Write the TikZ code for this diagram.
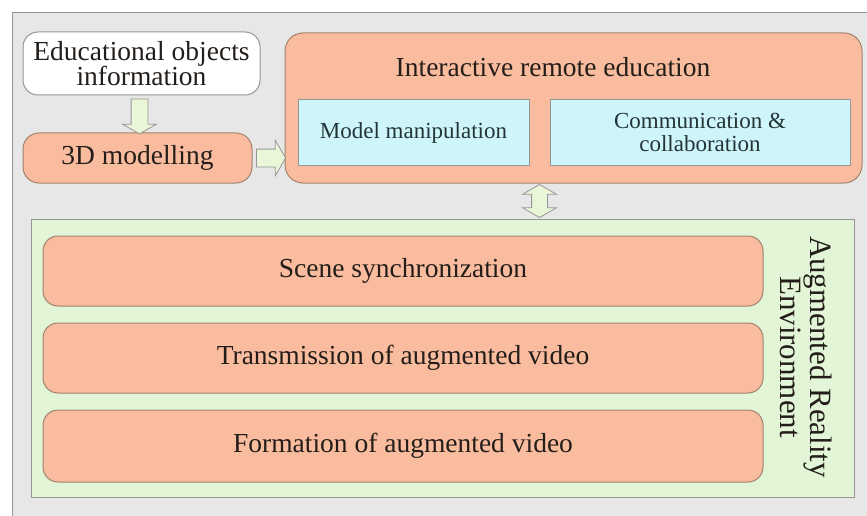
\documentclass[tikz,border=0pt]{standalone}
\usepackage{fontspec}
\setmainfont{Liberation Serif}
\usepackage{tikz}
\usetikzlibrary{arrows,calc,positioning,shapes.arrows}
\definecolor{bggray}{RGB}{231,231,231}
\definecolor{framegray}{RGB}{150,150,150}
\definecolor{salmon}{RGB}{250,188,158}
\definecolor{salmonline}{RGB}{160,130,110}
\definecolor{iceblue}{RGB}{206,246,250}
\definecolor{palegreen}{RGB}{226,245,214}
\definecolor{arrowgreen}{RGB}{234,246,216}
\definecolor{inkdark}{RGB}{36,30,26}
\definecolor{inkblue}{RGB}{36,52,54}
\newcommand{\tightlines}{\lineskiplimit=-30pt\relax}
\tikzset{
    %Define style for rounded boxes
    roundbox/.style={
           rectangle,
           rounded corners=16pt,
           draw=salmonline, line width=1pt,
           fill=salmon,
           inner sep=0pt,
           font={\fontsize{27.5}{25.5}\selectfont\tightlines},
           text=inkdark,
           align=center},
    sourcebox/.style={
           roundbox,
           fill=white,
           draw=framegray},
    subbox/.style={
           rectangle,
           draw=framegray, line width=1pt,
           fill=iceblue,
           inner sep=0pt,
           font={\fontsize{23}{23}\selectfont\tightlines},
           text=inkblue,
           align=center},
    envbox/.style={
           rectangle,
           draw=framegray, line width=1pt,
           fill=palegreen,
           inner sep=0pt},
    % Define block arrow styles
    fatarrow/.style={
           single arrow,
           draw=framegray, line width=0.8pt,
           fill=arrowgreen,
           inner xsep=0pt,
           single arrow tip angle=120},
    twinarrow/.style={
           double arrow,
           draw=framegray, line width=0.8pt,
           fill=arrowgreen,
           inner xsep=0pt,
           double arrow tip angle=120}
}
\begin{document}
\begin{tikzpicture}[x=1pt,y=-1pt]
\clip (0,0) rectangle (867,516);
\draw[fill=bggray, draw=framegray, line width=1pt] (12,13) rectangle (890,540);

 %nodes
\node[sourcebox, minimum width=237pt, minimum height=63pt, rounded corners=15pt]
    (info) at (141.5,63.5) {Educational objects\\information};
\node[roundbox, minimum width=229pt, minimum height=50pt]
    (model3d) at (137.5,158) {3D modelling};
\node[roundbox, minimum width=577pt, minimum height=150pt, rounded corners=18pt]
    (interact) at (573.5,108) {};
\node[font=\fontsize{27.5}{21}\selectfont, text=inkdark]
    (interacttitle) at (553,67) {Interactive remote education};
\node[subbox, minimum width=231pt, minimum height=65pt]
    (manip) at (413.5,132.5) {Model manipulation};
\node[subbox, minimum width=300pt, minimum height=65pt]
    (comm) at (700,132.5) {Communication \&\\collaboration};

\node[envbox, minimum width=823pt, minimum height=278pt]
    (env) at (442.5,358) {};
\node[roundbox, minimum width=720pt, minimum height=70pt, rounded corners=15pt]
    (sync) at (403,271) {Scene synchronization};
\node[roundbox, minimum width=720pt, minimum height=70pt, rounded corners=15pt]
    (trans) at (403,358) {Transmission of augmented video};
\node[roundbox, minimum width=720pt, minimum height=72pt, rounded corners=15pt]
    (form) at (403,446) {Formation of augmented video};
\node[rotate=-90, align=center, font={\fontsize{31}{30}\selectfont\tightlines},
    text=inkdark]
    (envlabel) at (806,357) {Augmented Reality\\Environment};

 %block arrows
\node[fatarrow, rotate=-90, minimum height=35pt, inner ysep=8pt,
    single arrow head extend=8.5pt]
    (down) at ($(info.south)!0.5!(model3d.north)$) {};
\node[fatarrow, minimum height=29pt, inner ysep=8.5pt,
    single arrow head extend=9pt]
    (right) at ($(model3d.east)!0.5!(model3d.east -| interact.west)$) {};
\node[twinarrow, rotate=90, minimum height=33pt, inner ysep=7.5pt,
    double arrow head extend=9pt]
    (link) at ($(manip.east |- interact.south)!0.5!(comm.west |- env.north)$) {};
\end{tikzpicture}
\end{document}
